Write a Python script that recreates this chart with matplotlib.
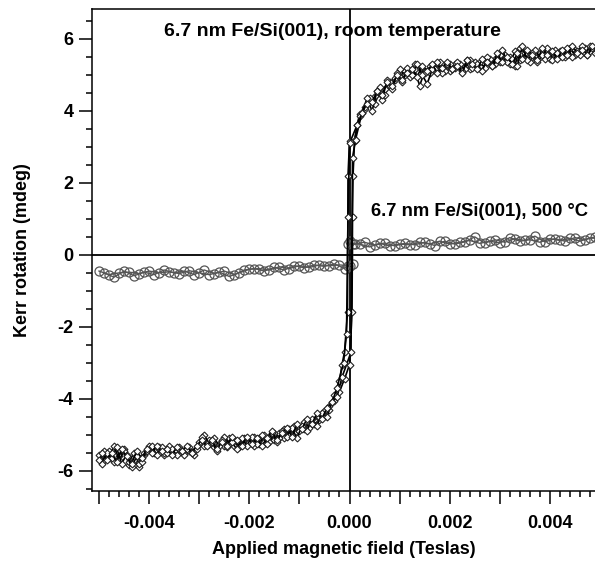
import numpy as np
import matplotlib
matplotlib.use("Agg")
from matplotlib import pyplot as plt
from matplotlib.ticker import MultipleLocator, FuncFormatter

plt.rcParams['font.family'] = ['Liberation Sans', 'DejaVu Sans']
plt.rcParams['font.weight'] = 'bold'
plt.rcParams['axes.unicode_minus'] = False

# room temperature loop, field in mT, rotation in mdeg
rt_up_field = [-5.0, -4.9, -4.8, -4.7, -4.6, -4.5, -4.4, -4.3, -4.2, -4.1,
               -4.0, -3.9, -3.8, -3.7, -3.6, -3.5, -3.4, -3.3, -3.2, -3.1,
               -3.0, -2.9, -2.8, -2.7, -2.6, -2.5, -2.4, -2.3, -2.2, -2.1,
               -2.0, -1.9, -1.8, -1.7, -1.6, -1.5, -1.4, -1.3, -1.2, -1.1,
               -1.0, -0.9, -0.8, -0.7, -0.6, -0.5, -0.4, -0.3, -0.2, -0.1,
               0.0, 0.05, 0.06, 0.07, 0.1, 0.15,
               0.2, 0.3, 0.4, 0.5, 0.6, 0.7, 0.8, 0.9, 1.0, 1.1,
               1.2, 1.3, 1.4, 1.5, 1.6, 1.7, 1.8, 1.9, 2.0, 2.1,
               2.2, 2.3, 2.4, 2.5, 2.6, 2.7, 2.8, 2.9, 3.0, 3.1,
               3.2, 3.3, 3.4, 3.5, 3.6, 3.7, 3.8, 3.9, 4.0, 4.1,
               4.2, 4.3, 4.4, 4.5, 4.6, 4.7, 4.8, 4.9, 5.0]
rt_up_kerr = [-5.55, -5.70, -5.45, -5.75, -5.60, -5.40, -5.85, -5.70, -5.90, -5.55,
              -5.35, -5.50, -5.40, -5.55, -5.45, -5.50, -5.35, -5.50, -5.45, -5.55,
              -5.25, -5.30, -5.15, -5.35, -5.25, -5.30, -5.10, -5.30, -5.20, -5.25,
              -5.15, -5.30, -5.10, -5.20, -5.05, -5.15, -4.95, -5.10, -4.85, -4.95,
              -4.80, -4.85, -4.75, -4.70, -4.60, -4.45, -4.30, -4.05, -3.80, -3.45,
              -3.05, -1.60, 1.06, 2.20, 3.15, 3.60,
              3.90, 4.05, 4.30, 4.20, 4.50, 4.45, 4.70, 4.85, 4.95, 5.10,
              4.95, 5.15, 4.70, 5.10, 5.05, 5.25, 5.15, 5.20, 5.10, 5.30,
              5.20, 5.25, 5.15, 5.35, 5.25, 5.40, 5.30, 5.45, 5.35, 5.55,
              5.30, 5.65, 5.40, 5.55, 5.45, 5.50, 5.60, 5.45, 5.55, 5.50,
              5.65, 5.55, 5.60, 5.70, 5.55, 5.75, 5.65, 5.70, 5.65]

rt_down_field = [5.0, 4.9, 4.8, 4.7, 4.6, 4.5, 4.4, 4.3, 4.2, 4.1,
                 4.0, 3.9, 3.8, 3.7, 3.6, 3.5, 3.4, 3.3, 3.2, 3.1,
                 3.0, 2.9, 2.8, 2.7, 2.6, 2.5, 2.4, 2.3, 2.2, 2.1,
                 2.0, 1.9, 1.8, 1.7, 1.6, 1.5, 1.4, 1.3, 1.2, 1.1,
                 1.0, 0.9, 0.8, 0.7, 0.6, 0.5, 0.4, 0.3, 0.2, 0.1,
                 0.0, -0.03, -0.04, -0.1, -0.15,
                 -0.2, -0.3, -0.4, -0.5, -0.6, -0.7, -0.8, -0.9, -1.0, -1.1,
                 -1.2, -1.3, -1.4, -1.5, -1.6, -1.7, -1.8, -1.9, -2.0, -2.1,
                 -2.2, -2.3, -2.4, -2.5, -2.6, -2.7, -2.8, -2.9, -3.0, -3.1,
                 -3.2, -3.3, -3.4, -3.5, -3.6, -3.7, -3.8, -3.9, -4.0, -4.1,
                 -4.2, -4.3, -4.4, -4.5, -4.6, -4.7, -4.8, -4.9, -5.0]
rt_down_kerr = [5.75, 5.60, 5.80, 5.60, 5.70, 5.55, 5.75, 5.50, 5.60, 5.70,
                5.45, 5.65, 5.50, 5.70, 5.35, 5.60, 5.75, 5.25, 5.50, 5.40,
                5.55, 5.30, 5.45, 5.20, 5.35, 5.25, 5.40, 5.15, 5.30, 5.20,
                5.30, 5.10, 5.35, 5.15, 5.25, 5.05, 5.20, 5.30, 5.10, 5.00,
                5.15, 4.90, 4.80, 4.60, 4.65, 4.40, 4.35, 4.10, 3.85, 3.20,
                3.15, 2.20, -1.60, -2.70, -3.05,
                -3.50, -3.90, -4.20, -4.35, -4.50, -4.60, -4.80, -4.65, -4.90, -4.75,
                -5.00, -4.85, -5.10, -4.95, -5.20, -5.00, -5.25, -5.05, -5.20, -5.10,
                -5.35, -5.15, -5.25, -5.05, -5.30, -5.10, -5.25, -5.00, -5.20, -5.45,
                -5.35, -5.55, -5.40, -5.45, -5.30, -5.50, -5.35, -5.45, -5.30, -5.50,
                -5.80, -5.50, -5.75, -5.45, -5.70, -5.30, -5.65, -5.45, -5.70]

# second sweep of the same sample, room temperature
rt_up2_field = [-4.95, -4.85, -4.75, -4.65, -4.55, -4.45, -4.35, -4.25, -4.15, -4.05,
                -3.95, -3.85, -3.75, -3.65, -3.55, -3.45, -3.35, -3.25, -3.15, -3.05,
                -2.95, -2.85, -2.75, -2.65, -2.55, -2.45, -2.35, -2.25, -2.15, -2.05,
                -1.95, -1.85, -1.75, -1.65, -1.55, -1.45, -1.35, -1.25, -1.15, -1.05,
                -0.95, -0.85, -0.75, -0.65, -0.55, -0.45, -0.35, -0.25, -0.15,
                0.03, 0.06, 0.12,
                0.25, 0.35, 0.45, 0.55, 0.65, 0.75, 0.85, 0.95, 1.05, 1.15,
                1.25, 1.35, 1.45, 1.55, 1.65, 1.75, 1.85, 1.95, 2.05, 2.15,
                2.25, 2.35, 2.45, 2.55, 2.65, 2.75, 2.85, 2.95, 3.05, 3.15,
                3.25, 3.35, 3.45, 3.55, 3.65, 3.75, 3.85, 3.95, 4.05, 4.15,
                4.25, 4.35, 4.45, 4.55, 4.65, 4.75, 4.85, 4.95]
rt_up2_kerr = [-5.80, -5.50, -5.65, -5.35, -5.80, -5.55, -5.90, -5.60, -5.75, -5.45,
               -5.30, -5.55, -5.35, -5.50, -5.40, -5.55, -5.45, -5.40, -5.50, -5.40,
               -5.05, -5.25, -5.20, -5.45, -5.15, -5.35, -5.20, -5.40, -5.10, -5.30,
               -5.05, -5.25, -5.00, -5.25, -4.95, -5.20, -4.90, -5.05, -4.80, -5.10,
               -4.75, -4.90, -4.55, -4.75, -4.40, -4.50, -4.10, -3.95, -3.40,
               -2.70, 2.70, 3.20,
               3.95, 4.35, 4.00, 4.55, 4.30, 4.85, 4.60, 5.05, 4.80, 5.20,
               5.00, 5.30, 5.00, 4.75, 5.15, 5.35, 5.05, 5.30, 5.15, 5.35,
               5.10, 5.40, 5.20, 5.30, 5.10, 5.50, 5.25, 5.40, 5.70, 5.35,
               5.45, 5.25, 5.80, 5.40, 5.60, 5.35, 5.55, 5.75, 5.40, 5.60,
               5.50, 5.75, 5.50, 5.65, 5.80, 5.55, 5.75, 5.60]

rt_down2_field = [4.95, 4.85, 4.75, 4.65, 4.55, 4.45, 4.35, 4.25, 4.15, 4.05,
                  3.95, 3.85, 3.75, 3.65, 3.55, 3.45, 3.35, 3.25, 3.15, 3.05,
                  2.95, 2.85, 2.75, 2.65, 2.55, 2.45, 2.35, 2.25, 2.15, 2.05,
                  1.95, 1.85, 1.75, 1.65, 1.55, 1.45, 1.35, 1.25, 1.15, 1.05,
                  0.95, 0.85, 0.75, 0.65, 0.55, 0.45, 0.35, 0.25, 0.15,
                  0.0, -0.03, -0.06, -0.12,
                  -0.25, -0.35, -0.45, -0.55, -0.65, -0.75, -0.85, -0.95, -1.05, -1.15,
                  -1.25, -1.35, -1.45, -1.55, -1.65, -1.75, -1.85, -1.95, -2.05, -2.15,
                  -2.25, -2.35, -2.45, -2.55, -2.65, -2.75, -2.85, -2.95, -3.05, -3.15,
                  -3.25, -3.35, -3.45, -3.55, -3.65, -3.75, -3.85, -3.95, -4.05, -4.15,
                  -4.25, -4.35, -4.45, -4.55, -4.65, -4.75, -4.85, -4.95]
rt_down2_kerr = [5.65, 5.80, 5.55, 5.70, 5.60, 5.80, 5.55, 5.70, 5.45, 5.65,
                 5.55, 5.75, 5.40, 5.55, 5.70, 5.45, 5.60, 5.30, 5.50, 5.35,
                 5.60, 5.25, 5.35, 5.45, 5.15, 5.30, 5.40, 5.05, 5.25, 5.15,
                 5.35, 5.20, 5.05, 5.30, 5.10, 5.25, 4.95, 5.15, 5.05, 4.85,
                 5.00, 4.70, 4.80, 4.45, 4.55, 4.25, 4.20, 3.95, 3.60,
                 3.10, 1.06, -2.20, -3.00,
                 -3.70, -4.10, -4.25, -4.55, -4.40, -4.70, -4.55, -4.85, -4.70, -5.05,
                 -4.80, -4.95, -5.15, -4.90, -5.10, -5.30, -5.10, -5.25, -5.05, -5.30,
                 -5.15, -5.05, -5.30, -5.20, -5.40, -5.15, -5.30, -5.15, -5.30, -5.50,
                 -5.30, -5.45, -5.35, -5.55, -5.40, -5.45, -5.30, -5.50, -5.40, -5.65,
                 -5.45, -5.80, -5.60, -5.40, -5.75, -5.50, -5.70, -5.50]

# 500 C loop
ht_up_field = [-5.0, -4.8, -4.6, -4.4, -4.2, -4.0, -3.8, -3.6, -3.4, -3.2,
               -3.0, -2.8, -2.6, -2.4, -2.2, -2.0, -1.8, -1.6, -1.4, -1.2,
               -1.0, -0.8, -0.6, -0.4, -0.2, 0.0, 0.06, 0.06,
               0.2, 0.4, 0.6, 0.8, 1.0, 1.2, 1.4, 1.6, 1.8, 2.0,
               2.2, 2.4, 2.6, 2.8, 3.0, 3.2, 3.4, 3.6, 3.8, 4.0,
               4.2, 4.4, 4.6, 4.8, 5.0]
ht_up_kerr = [-0.45, -0.55, -0.50, -0.48, -0.52, -0.45, -0.50, -0.47, -0.52, -0.44,
              -0.50, -0.55, -0.48, -0.60, -0.50, -0.40, -0.38, -0.42, -0.33, -0.38,
              -0.30, -0.35, -0.28, -0.30, -0.28, -0.30, -0.25, 0.30,
              0.30, 0.22, 0.32, 0.25, 0.30, 0.28, 0.35, 0.30, 0.38, 0.30,
              0.35, 0.40, 0.32, 0.38, 0.33, 0.48, 0.38, 0.42, 0.35, 0.45,
              0.40, 0.46, 0.38, 0.47, 0.45]

ht_down_field = [4.9, 4.7, 4.5, 4.3, 4.1, 3.9, 3.7, 3.5, 3.3, 3.1,
                 2.9, 2.7, 2.5, 2.3, 2.1, 1.9, 1.7, 1.5, 1.3, 1.1,
                 0.9, 0.7, 0.5, 0.3, 0.1, 0.0, -0.04, -0.04,
                 -0.1, -0.3, -0.5, -0.7, -0.9, -1.1, -1.3, -1.5, -1.7, -1.9,
                 -2.1, -2.3, -2.5, -2.7, -2.9, -3.1, -3.3, -3.5, -3.7, -3.9,
                 -4.1, -4.3, -4.5, -4.7, -4.9]
ht_down_kerr = [0.50, 0.42, 0.48, 0.38, 0.45, 0.36, 0.52, 0.40, 0.45, 0.35,
                0.42, 0.33, 0.50, 0.36, 0.30, 0.38, 0.26, 0.35, 0.28, 0.32,
                0.25, 0.33, 0.27, 0.35, 0.30, 0.38, 0.30, -0.30,
                -0.38, -0.25, -0.32, -0.28, -0.36, -0.30, -0.42, -0.35, -0.45, -0.38,
                -0.42, -0.55, -0.45, -0.52, -0.42, -0.55, -0.45, -0.50, -0.42, -0.55,
                -0.48, -0.58, -0.45, -0.62, -0.50]

fig = plt.figure(figsize=(5.95, 5.62), dpi=100)
ax = fig.add_axes([92 / 595, 1 - 491 / 562, 1 - 92 / 595, (491 - 9) / 562])

ax.axhline(0, color='black', lw=1.3, zorder=1)
ax.axvline(0, color='black', lw=1.3, zorder=1)

# 500 C first, room temperature on top
for fx, ky in [(ht_up_field, ht_up_kerr), (ht_down_field, ht_down_kerr)]:
    ax.plot(np.array(fx) * 1e-3, ky, '-', color='#555555', lw=1.0,
            marker='o', ms=6.5, mfc='none', mec='#555555', mew=0.9, zorder=2)
rt_sweeps = [(rt_up_field, rt_up_kerr), (rt_down_field, rt_down_kerr),
             (rt_up2_field, rt_up2_kerr), (rt_down2_field, rt_down2_kerr)]
for fx, ky in rt_sweeps:
    ax.plot(np.array(fx) * 1e-3, ky, '-', color='black', lw=1.2,
            marker='D', ms=3.5, mfc='white', mec='#222222', mew=0.8, zorder=3)

ax.set_xlim(-0.00514, 0.0049)
ax.set_ylim(-6.56, 6.83)

ax.xaxis.set_major_locator(MultipleLocator(0.001))
ax.xaxis.set_minor_locator(MultipleLocator(0.0002))
ax.xaxis.set_major_formatter(FuncFormatter(
    lambda v, p: ('%.3f' % v).replace('-0.000', '0.000') if round(v / 0.001) % 2 == 0 else ''))
ax.yaxis.set_major_locator(MultipleLocator(2))
ax.yaxis.set_minor_locator(MultipleLocator(0.5))

ax.tick_params(axis='both', which='major', direction='out', length=9.5, width=1.1,
               labelsize=13)
ax.tick_params(axis='both', which='minor', direction='out', length=4.5, width=1.1)
ax.tick_params(axis='x', which='major', pad=8)
ax.tick_params(axis='y', which='major', pad=4)

for side in ['left', 'bottom', 'top']:
    ax.spines[side].set_linewidth(1.1)
ax.spines['right'].set_visible(False)

ax.set_xlabel('Applied magnetic field (Teslas)', fontsize=13, fontweight='bold', labelpad=6)
ax.set_ylabel('Kerr rotation (mdeg)', fontsize=13, fontweight='bold', labelpad=19)

ax.text(-0.0037, 6.2, '6.7 nm Fe/Si(001), room temperature', fontsize=14,
        fontweight='bold', va='center', ha='left')
ax.text(0.00042, 1.2, '6.7 nm Fe/Si(001), 500 \u00b0C', fontsize=13.3,
        fontweight='bold', va='center', ha='left')

fig.savefig('out.png', dpi=100)
